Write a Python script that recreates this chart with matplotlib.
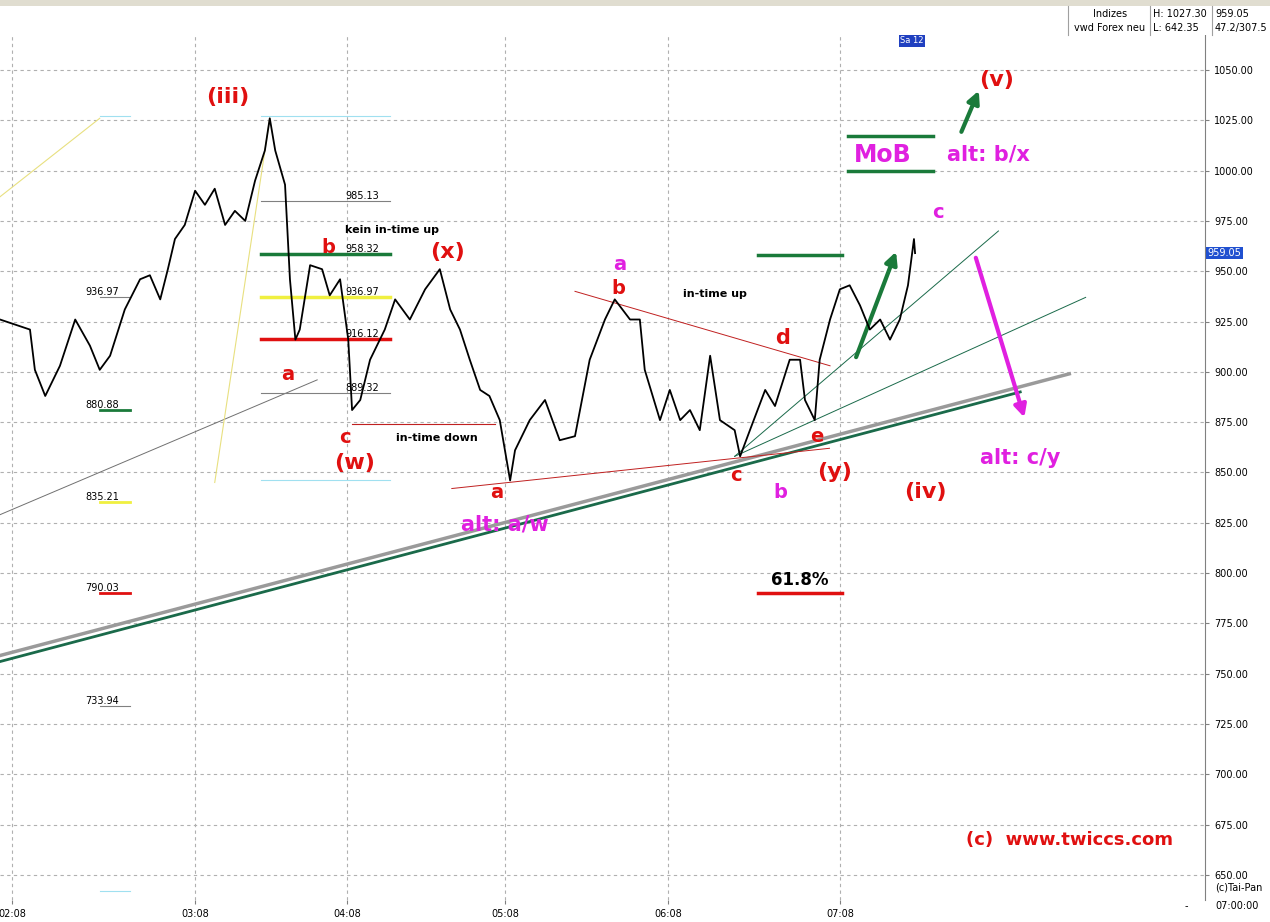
import matplotlib.pyplot as plt
import matplotlib.patches as mpatches

# price path (day index from 1 Feb 2008, index level)
days = [-2.2, 3.3, 4.2, 6.1, 8.8, 11.6, 14.3, 16.1, 18, 20.7, 23.5, 25.3, 27.2, 28.6, 29.9,
        31.7, 33.6, 35.4, 37.2, 39.1, 40.9, 42.8, 44.6, 46.4, 47.3, 48.3, 50.1, 51, 52,
        52.8, 54.7, 56.9, 58.3, 60.2, 61.7, 62.4, 63.9, 65.7, 68.4, 70.3, 73, 75.8, 78.5,
        80.4, 82.2, 84, 85.9, 87.6, 89.5, 91.4, 92.3, 95, 97.8, 100.5, 103.3, 106, 108.8,
        110.6, 113.4, 115.2, 116.1, 118.9, 120.7, 122.6, 124.4, 126.2, 128.1, 129.9,
        132.6, 133.6, 135.4, 138.2, 140, 142.7, 144.6, 145.5, 147.3, 148.2, 150.1, 151.9,
        153.7, 155.6, 157.4, 159.3, 161.1, 162.9, 164.4, 165.5, 165.7]
price = [926, 921, 901, 888, 903, 926, 913, 901, 908, 931, 946, 948, 936, 951, 966,
         973, 990, 983, 991, 973, 980, 975, 995, 1010, 1026, 1010, 993, 946, 916,
         921, 953, 951, 938, 946, 916, 881, 886, 906, 921, 936, 926, 941, 951,
         931, 921, 906, 891, 888, 876, 846, 861, 876, 886, 866, 868, 906, 926,
         936, 926, 926, 901, 876, 891, 876, 881, 871, 908, 876,
         871, 858, 871, 891, 883, 906, 906, 886, 876, 906, 926, 941,
         943, 933, 921, 926, 916, 926, 943, 966, 959]

tick_days = [0, 33.6, 61.5, 90.5, 120.4, 152]
tick_labels = ["02:08", "03:08", "04:08", "05:08", "06:08", "07:08"]

fib_levels = [985.13, 958.32, 936.97, 916.12, 889.32]
fib_colors = ["#808080", "#1a7a3a", "#f0f040", "#e01010", "#808080"]
fib_widths = [0.8, 2.5, 2.5, 2.5, 0.8]
left_levels = [936.97, 880.88, 835.21, 790.03, 733.94]
left_colors = ["#808080", "#1a7a3a", "#f0f040", "#e01010", "#808080"]

X0, X1, Y0, Y1 = -2.2, 218.9, 637.5, 1067.4
W, H = 1270, 922
AX_L, AX_R, AX_T, AX_B = 0, 1205, 35, 900


def d(px):
    return X0 + (px - AX_L) / (AX_R - AX_L) * (X1 - X0)


def p(py):
    return Y1 - (py - AX_T) / (AX_B - AX_T) * (Y1 - Y0)


fig = plt.figure(figsize=(12.7, 9.22), dpi=100)
ax = fig.add_axes([AX_L / W, 1 - AX_B / H, (AX_R - AX_L) / W, (AX_B - AX_T) / H])
ax.set_xlim(X0, X1)
ax.set_ylim(Y0, Y1)
ax.set_facecolor("white")
for s in ["top", "left", "bottom"]:
    ax.spines[s].set_visible(False)
ax.spines["right"].set_color("#808080")
ax.yaxis.tick_right()
ax.set_yticks(range(650, 1051, 25))
ax.set_yticklabels([f"{v:.2f}" for v in range(650, 1051, 25)], fontsize=7)
ax.set_xticks(tick_days)
ax.set_xticklabels(tick_labels, fontsize=7)
ax.tick_params(length=3, color="#808080")
ax.grid(True, color="#b0b0b0", linestyle=(0, (3, 3)), linewidth=0.8)

# trend lines
ax.plot([-2.2, 194], [759, 899], color="#9a9a9a", lw=2.5, zorder=2)
ax.plot([-2.2, 185], [756, 890], color="#1a6a4a", lw=2, zorder=2)
ax.plot([132.6, 181], [858, 970], color="#1a6a4a", lw=0.7)
ax.plot([132.6, 197], [858, 937], color="#1a6a4a", lw=0.7)
ax.plot([80.7, 150], [842, 862], color="#c02020", lw=0.7)
ax.plot([103.3, 150.1], [940, 903], color="#c02020", lw=0.7)
ax.plot([-2.2, 56], [829, 896], color="#707070", lw=0.7)
ax.plot([-2.2, 16.1], [987, 1026], color="#e8e080", lw=0.8)
ax.plot([37.2, 47.3], [845, 1026], color="#e8e080", lw=0.8)
ax.plot([16.1, 21.6], [1027, 1027], color="#a0e0f0", lw=0.8)
ax.plot([16.1, 21.6], [642, 642], color="#a0e0f0", lw=0.8)
ax.plot([45.6, 69.4], [1027, 1027], color="#a0e0f0", lw=0.8)
ax.plot([45.6, 69.4], [846, 846], color="#a0e0f0", lw=0.8)
ax.plot([62.4, 88.6], [874, 874], color="#c02020", lw=0.8)

for lev, c, w in zip(fib_levels, fib_colors, fib_widths):
    ax.plot([45.6, 69.4], [lev, lev], color=c, lw=w, zorder=3)
    ax.text(d(345), lev + 1, f"{lev:.2f}", fontsize=7, zorder=5)
for lev, c in zip(left_levels, left_colors):
    ax.plot([16.1, 21.6], [lev, lev], color=c, lw=0.8 if c == "#808080" else 2)
    ax.text(d(85), lev + 1, f"{lev:.2f}", fontsize=7)

ax.plot(days, price, color="black", lw=1.3, zorder=4)

ax.plot([136.9, 152.3], [958, 958], color="#1a7a3a", lw=2.5)
ax.plot([153.4, 169], [1017, 1017], color="#1a7a3a", lw=2.5)
ax.plot([153.4, 169], [1000, 1000], color="#1a7a3a", lw=2.5)
ax.plot([136.9, 152.3], [790, 790], color="#e01010", lw=2.5)

arr = dict(arrowstyle="-|>", lw=3, mutation_scale=18)
ax.annotate("", xy=(162.4, 961), xytext=(154.7, 906), arrowprops=dict(color="#1a7a3a", **arr))
ax.annotate("", xy=(177.6, 1041), xytext=(174, 1018), arrowprops=dict(color="#1a7a3a", **arr))
ax.annotate("", xy=(185.9, 876), xytext=(176.7, 958), arrowprops=dict(color="#e020e0", **arr))

red, mag = "#e01010", "#e020e0"
labels = [
    ("(iii)", 228, 97, red, 16), ("a", 288, 375, red, 14), ("b", 328, 248, red, 14),
    ("c", 345, 438, red, 14), ("(w)", 355, 463, red, 16), ("(x)", 447, 252, red, 16),
    ("a", 497, 492, red, 14), ("alt: a/w", 505, 525, mag, 15), ("a", 620, 265, mag, 14),
    ("b", 618, 289, red, 14), ("d", 783, 338, red, 15), ("c", 736, 476, red, 14),
    ("e", 817, 437, red, 14), ("(y)", 835, 472, red, 16), ("b", 780, 492, mag, 14),
    ("(iv)", 925, 492, red, 16), ("alt: c/y", 1020, 458, mag, 15), ("c", 938, 213, mag, 14),
    ("(v)", 997, 80, red, 16), ("MoB", 883, 155, mag, 17), ("alt: b/x", 988, 155, mag, 15),
    ("61.8%", 800, 580, "black", 12), ("(c)  www.twiccs.com", 1070, 840, red, 13),
]
for t, x, y, c, fs in labels:
    ax.text(d(x), p(y), t, color=c, fontsize=fs, fontweight="bold", ha="center", va="center",
            zorder=6)
for t, x, y in [("kein in-time up", 392, 230), ("in-time down", 437, 438), ("in-time up", 715, 294)]:
    ax.text(d(x), p(y), t, fontsize=8, fontweight="bold", ha="center", va="center")

ax.text(d(912), p(41), "Sa 12", fontsize=6, color="white", ha="center", va="center",
        bbox=dict(boxstyle="square,pad=0.15", fc="#2040c0", ec="none"))
ax.text(X1 + 0.5, 959.05, "959.05", fontsize=7, color="white", va="center",
        bbox=dict(boxstyle="square,pad=0.15", fc="#2050d0", ec="none"), clip_on=False)

# header bar
fig.patches.append(mpatches.Rectangle((0, 1 - 35 / H), 1, 35 / H, transform=fig.transFigure,
                                      fc="white", ec="none"))
fig.patches.append(mpatches.Rectangle((0, 1 - 6 / H), 1, 6 / H, transform=fig.transFigure,
                                      fc="#e0ddd0", ec="none"))
for xp in [1068, 1150, 1212]:
    fig.add_artist(plt.Line2D([xp / W, xp / W], [1 - 35 / H, 1 - 6 / H], color="#a0a0a0", lw=0.8))
fig.text(1110 / W, 1 - 14 / H, "Indizes", fontsize=7, ha="center", va="center")
fig.text(1110 / W, 1 - 28 / H, "vwd Forex neu", fontsize=7, ha="center", va="center")
fig.text(1153 / W, 1 - 14 / H, "H: 1027.30", fontsize=7, va="center")
fig.text(1153 / W, 1 - 28 / H, "L: 642.35", fontsize=7, va="center")
fig.text(1215 / W, 1 - 14 / H, "959.05", fontsize=7, va="center")
fig.text(1215 / W, 1 - 28 / H, "47.2/307.5", fontsize=7, va="center")

fig.text(1215 / W, 1 - 887 / H, "(c)Tai-Pan", fontsize=7, va="center")
fig.text(1215 / W, 1 - 906 / H, "07:00:00", fontsize=7, va="center")
fig.text(1185 / W, 1 - 906 / H, "-", fontsize=7, va="center")

fig.savefig("out.png", dpi=100)
